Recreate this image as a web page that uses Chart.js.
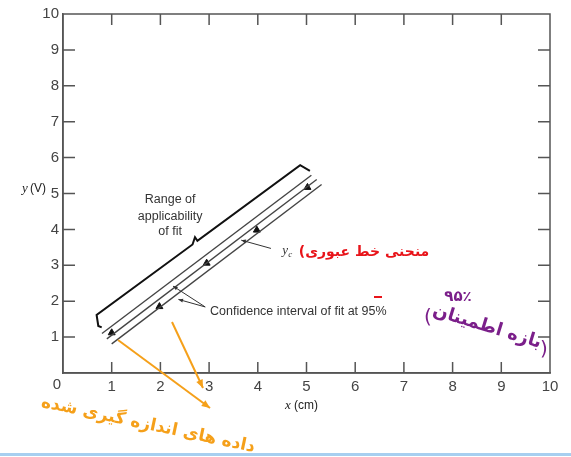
<!DOCTYPE html>
<meta charset="utf-8">
<title>Fit with confidence interval</title>
<style>
  body { margin: 0; background: #fff; }
  #wrap { width: 571px; height: 457px; position: relative; }
</style>
<div id="wrap"><canvas id="chart"></canvas></div>
<script src="https://cdn.jsdelivr.net/npm/chart.js@4"></script>
<script>
  // measured points
  const measX = [1.0, 1.98, 2.95, 3.98, 5.02]
  const measY = [1.12, 1.85, 3.06, 3.98, 5.17]

  // curve fit yc and its 95% band
  const fitX = [0.9, 5.21]
  const fitY = [0.95, 5.39]
  const upX = [0.8, 5.1]
  const upY = [1.10, 5.51]
  const loX = [1.0, 5.31]
  const loY = [0.81, 5.25]

  // "range of applicability" bracket
  const brX = [0.795, 0.725, 0.69, 2.66, 2.71, 2.76, 4.87, 5.07]
  const brY = [1.27, 1.31, 1.62, 3.58, 3.78, 3.68, 5.79, 5.63]

  const xTicks = [1, 2, 3, 4, 5, 6, 7, 8, 9, 10]
  const yTicks = [1, 2, 3, 4, 5, 6, 7, 8, 9, 10]

  const pts = (xs, ys) => xs.map((x, i) => ({ x, y: ys[i] }))
  const sans = "'Liberation Sans', Arial, sans-serif"
  const serif = "'Liberation Serif', 'DejaVu Serif', serif"

  const line = (xs, ys, color, width) => ({
    data: pts(xs, ys),
    showLine: true,
    borderColor: color,
    borderWidth: width,
    pointRadius: 0,
    fill: false,
  })

  function arrow(ctx, x1, y1, x2, y2, size) {
    ctx.beginPath()
    ctx.moveTo(x1, y1)
    ctx.lineTo(x2, y2)
    ctx.stroke()
    const a = Math.atan2(y2 - y1, x2 - x1)
    ctx.beginPath()
    ctx.moveTo(x2, y2)
    ctx.lineTo(x2 - size * Math.cos(a - 0.4), y2 - size * Math.sin(a - 0.4))
    ctx.lineTo(x2 - size * Math.cos(a + 0.4), y2 - size * Math.sin(a + 0.4))
    ctx.closePath()
    ctx.fill()
  }

  function rotText(ctx, txt, x, y, deg, font, color) {
    ctx.save()
    ctx.translate(x, y)
    ctx.rotate(deg * Math.PI / 180)
    ctx.font = font
    ctx.fillStyle = color
    ctx.textAlign = "center"
    ctx.textBaseline = "middle"
    ctx.fillText(txt, 0, 0)
    ctx.restore()
  }

  const extras = {
    id: "extras",
    afterDraw(chart) {
      const { ctx, chartArea: a } = chart
      const sx = chart.scales.x, sy = chart.scales.y
      const px = v => sx.getPixelForValue(v)
      const py = v => sy.getPixelForValue(v)
      ctx.save()

      // frame + inward ticks on all sides
      ctx.strokeStyle = "#555"
      ctx.lineWidth = 1.5
      ctx.strokeRect(a.left, a.top, a.right - a.left, a.bottom - a.top)
      ctx.beginPath()
      for (const v of xTicks.slice(0, -1)) {
        ctx.moveTo(px(v), a.bottom); ctx.lineTo(px(v), a.bottom - 11)
        ctx.moveTo(px(v), a.top); ctx.lineTo(px(v), a.top + 11)
      }
      for (const v of yTicks.slice(0, -1)) {
        ctx.moveTo(a.left, py(v)); ctx.lineTo(a.left + 12, py(v))
        ctx.moveTo(a.right, py(v)); ctx.lineTo(a.right - 12, py(v))
      }
      ctx.stroke()

      // shared origin label
      ctx.fillStyle = "#444"
      ctx.font = "15px " + sans
      ctx.textAlign = "center"
      ctx.textBaseline = "middle"
      ctx.fillText("0", a.left - 6, a.bottom + 12)

      // axis titles
      ctx.fillStyle = "#222"
      ctx.textAlign = "left"
      ctx.font = "italic 13px " + serif
      ctx.fillText("y", 22, 189)
      ctx.font = "12px " + sans
      ctx.fillText("(V)", 30, 189)
      ctx.font = "italic 13px " + serif
      ctx.fillText("x", 285, 406)
      ctx.font = "12px " + sans
      ctx.fillText("(cm)", 294, 406)

      // labels on the plot
      ctx.fillStyle = "#333"
      ctx.font = "12.5px " + sans
      ctx.textAlign = "center"
      ctx.fillText("Range of", px(2.2), py(4.82))
      ctx.fillText("applicability", px(2.2), py(4.37))
      ctx.fillText("of fit", px(2.2), py(3.93))
      ctx.textAlign = "left"
      ctx.fillText("Confidence interval of fit at 95%", px(3.02), py(1.72))
      ctx.font = "italic 13px " + serif
      ctx.fillText("y", px(4.5), py(3.42))
      ctx.font = "italic 9px " + serif
      ctx.fillText("c", px(4.5) + 6, py(3.42) + 4)

      ctx.strokeStyle = "#333"
      ctx.fillStyle = "#333"
      ctx.lineWidth = 1
      arrow(ctx, px(4.27), py(3.47), px(3.66), py(3.70), 5)
      arrow(ctx, px(2.92), py(1.84), px(2.26), py(2.42), 5)
      arrow(ctx, px(2.92), py(1.84), px(2.37), py(2.05), 5)

      // handwritten notes
      ctx.strokeStyle = "#f5a01a"
      ctx.fillStyle = "#f5a01a"
      ctx.lineWidth = 2
      arrow(ctx, 118, 340, 210, 408, 9)
      arrow(ctx, 172, 322, 203, 388, 9)
      rotText(ctx, "داده های اندازه گیری شده", 148, 425, 12, "bold 17px 'DejaVu Sans'", "#f5a01a")

      rotText(ctx, "(منحنی خط عبوری", 364, 252, 0, "bold 14px 'DejaVu Sans'", "#e8141a")
      ctx.fillStyle = "#e8141a"
      ctx.fillRect(374, 296, 8, 2)

      rotText(ctx, "۹۵٪", 458, 297, 0, "bold 15px 'DejaVu Sans'", "#7b1f8a")
      rotText(ctx, "بازه اطمینان", 487, 327, 17, "bold 18px 'DejaVu Sans'", "#7b1f8a")
      rotText(ctx, "(", 428, 318, 0, "20px 'DejaVu Sans'", "#7b1f8a")
      rotText(ctx, ")", 544, 350, 0, "20px 'DejaVu Sans'", "#7b1f8a")

      // screenshot edge
      ctx.fillStyle = "#a7cff0"
      ctx.fillRect(0, 453, chart.width, 3)
      ctx.restore()
    },
  }

  new Chart(document.getElementById("chart"), {
    type: "scatter",
    data: {
      datasets: [
        line(upX, upY, "#444", 1.4),
        line(fitX, fitY, "#444", 1.4),
        line(loX, loY, "#444", 1.4),
        line(brX, brY, "#111", 2),
        {
          data: pts(measX, measY),
          pointStyle: "triangle",
          pointRadius: 4,
          backgroundColor: "#111",
          borderColor: "#111",
          borderWidth: 1,
        },
      ],
    },
    options: {
      responsive: true,
      maintainAspectRatio: false,
      animation: false,
      layout: { padding: { top: 14, right: 21, left: 0, bottom: 0 } },
      plugins: { legend: { display: false }, tooltip: { enabled: false } },
      scales: {
        x: {
          type: "linear",
          min: 0,
          max: 10,
          afterBuildTicks: s => { s.ticks = xTicks.map(v => ({ value: v })) },
          afterFit: s => { s.height = 84 },
          ticks: { color: "#444", font: { size: 15, family: sans }, padding: 5, maxRotation: 0 },
          grid: { drawOnChartArea: false, drawTicks: false },
          border: { color: "#555", width: 1.5 },
        },
        y: {
          type: "linear",
          min: 0,
          max: 10,
          afterBuildTicks: s => { s.ticks = yTicks.map(v => ({ value: v })) },
          afterFit: s => { s.width = 63 },
          ticks: { color: "#444", font: { size: 15, family: sans }, padding: 4 },
          grid: { drawOnChartArea: false, drawTicks: false },
          border: { color: "#555", width: 1.5 },
        },
      },
    },
    plugins: [extras],
  })
</script>
